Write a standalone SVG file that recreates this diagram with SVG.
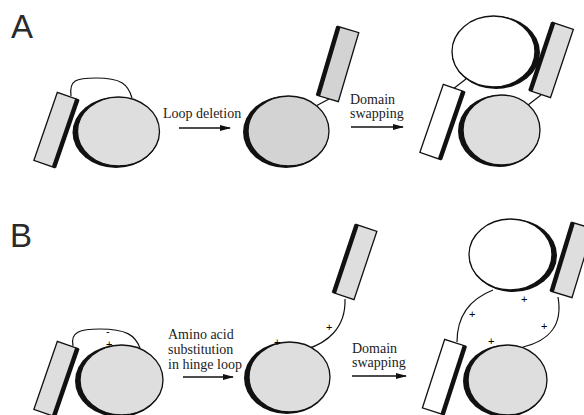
<svg xmlns="http://www.w3.org/2000/svg" xmlns:xlink="http://www.w3.org/1999/xlink" width="584" height="415" viewBox="0 0 584 415">
<style>
.s{stroke:#111;stroke-width:1.3}
.g{fill:#dedede}
.g2{fill:#d3d3d3}
.w{fill:#fff}
.k{fill:#111}
.ln{fill:none;stroke:#111;stroke-width:1.2}
.ar{fill:none;stroke:#111;stroke-width:1.3}
.t{font-family:"Liberation Serif","Times New Roman",serif;font-size:14px;fill:#222}
.pm{font-family:"Liberation Sans",Arial,sans-serif;font-size:11px;fill:#000}
.lbl{font-family:"Liberation Sans",Arial,sans-serif;font-size:33px;fill:#2a2a2a}
</style>
<defs>
<marker id="ah" markerUnits="userSpaceOnUse" markerWidth="11" markerHeight="7" refX="10" refY="3.5" orient="auto">
<path d="M0,0.5 L11,3.5 L0,6.5 z" fill="#111"/>
</marker>
<g id="barR"><rect x="-11" y="-36" width="22" height="72" class="s"/><rect x="8" y="-36" width="4.5" height="72" class="k"/></g>
<g id="barL"><rect x="-11" y="-36" width="22" height="72" class="s"/><rect x="-12.5" y="-36" width="4.5" height="72" class="k"/></g>
</defs>
<rect width="584" height="415" fill="#fff"/>
<text class="lbl" x="11" y="38">A</text>
<text class="lbl" x="10" y="247">B</text>
<g id="connectors">
<path class="ln" d="M71,96 C69,80 76,78 96,78 C121,78 128,84 132,98"/>
<path class="ln" d="M329,99 L314,107"/>
<path class="ln" d="M453,89 L466,79"/>
<path class="ln" d="M541,95 L528,105"/>
<path class="ln" d="M73,346 C70,332 80,329 100,329 C126,329 135,335 140,348"/>
<path class="ln" d="M345,299 C346,329 326,343 307,349"/>
<path class="ln" d="M493,290 C470,299 457,315 457,342"/>
<path class="ln" d="M558,297 C563,325 549,341 523,347"/>
<path class="ar" d="M179,128 L230,128" marker-end="url(#ah)"/>
<path class="ar" d="M351,127 L403,127" marker-end="url(#ah)"/>
<path class="ar" d="M183,377 L233,377" marker-end="url(#ah)"/>
<path class="ar" d="M352,376 L406,376" marker-end="url(#ah)"/>
</g>
<g id="labels">
<text class="t" x="163" y="118">Loop deletion</text>
<text class="t" x="350" y="104">Domain</text>
<text class="t" x="350" y="118">swapping</text>
<text class="t" x="168" y="339">Amino acid</text>
<text class="t" x="168" y="354">substitution</text>
<text class="t" x="168" y="369">in hinge loop</text>
<text class="t" x="352" y="353">Domain</text>
<text class="t" x="352" y="367">swapping</text>
</g>
<g id="a1">
<use xlink:href="#barR" transform="translate(56,130) rotate(19)" class="g"/>
<ellipse cx="116" cy="132.5" rx="43.5" ry="35.5" class="k"/>
<ellipse cx="118.5" cy="131.5" rx="41" ry="34.5" class="g s"/>
</g>
<g id="a2">
<use xlink:href="#barL" transform="translate(338,64) rotate(16.5)" class="g2"/>
<ellipse cx="286" cy="132" rx="43" ry="36" class="k"/>
<ellipse cx="288.5" cy="131" rx="40.5" ry="35" class="g2 s"/>
</g>
<g id="a3">
<ellipse cx="496" cy="52.5" rx="44" ry="36.5" class="k"/>
<ellipse cx="493.5" cy="51.5" rx="41.5" ry="35.5" class="w s"/>
<use xlink:href="#barL" transform="translate(551.5,60) rotate(18.5)" class="g"/>
<use xlink:href="#barR" transform="translate(442,122) rotate(19)" class="w"/>
<ellipse cx="499" cy="131" rx="41" ry="36" class="k"/>
<ellipse cx="501.5" cy="130" rx="38.5" ry="35" class="g s"/>
</g>
<g id="b1">
<use xlink:href="#barR" transform="translate(56,379) rotate(19)" class="g"/>
<ellipse cx="119" cy="381" rx="44" ry="36" class="k"/>
<ellipse cx="121.5" cy="380" rx="41.5" ry="35" class="g s"/>
<text class="pm" x="106" y="335">-</text>
<text class="pm" x="106" y="348">+</text>
</g>
<g id="b2">
<use xlink:href="#barL" transform="translate(355,262) rotate(18.5)" class="g"/>
<ellipse cx="287" cy="378" rx="43" ry="36" class="k"/>
<ellipse cx="289.5" cy="377" rx="40.5" ry="35" class="g s"/>
<text class="pm" x="274" y="346">+</text>
<text class="pm" x="326" y="331">+</text>
</g>
<g id="b3">
<ellipse cx="513" cy="255.5" rx="44" ry="36.5" class="k"/>
<ellipse cx="510.5" cy="254.5" rx="41.5" ry="35.5" class="w s"/>
<use xlink:href="#barL" transform="translate(572,260) rotate(17)" class="g"/>
<use xlink:href="#barR" transform="translate(444,377) rotate(18)" class="w"/>
<ellipse cx="505" cy="381" rx="42" ry="36" class="k"/>
<ellipse cx="507.5" cy="380" rx="39.5" ry="35" class="g s"/>
<text class="pm" x="521" y="303">+</text>
<text class="pm" x="469" y="318">+</text>
<text class="pm" x="541" y="330">+</text>
<text class="pm" x="488" y="345">+</text>
</g>
</svg>
